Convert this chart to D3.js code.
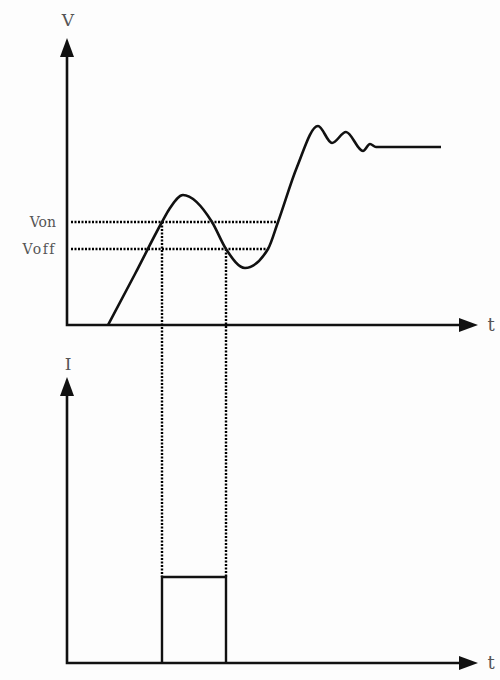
<!DOCTYPE html>
<html>
<head>
<meta charset="utf-8">
<script src="https://cdn.jsdelivr.net/npm/d3@7"></script>
<style>
  body { margin: 0; background: #fdfdfd; }
  text { font-family: "DejaVu Serif", "Liberation Serif", serif; fill: #555; font-variant-ligatures: none; }
</style>
</head>
<body>
<svg id="chart" width="500" height="680"></svg>
<script>
// voltage curve (t, V in arbitrary units)
const voltT = [41, 68, 95, 103, 116, 145, 159, 178, 201, 211, 230, 251, 265, 279, 296, 303, 309, 374]
const voltV = [0, 51, 103, 117, 130, 103, 76, 57, 76, 103, 158, 199, 182, 193, 174, 181, 178, 178]
// thresholds
const thresholdNames = ['Von', 'Voff']
const thresholdV = [103, 76]
const thresholdCrossT = [211, 201]   // where the dotted line stops on the right
const switchT = [95, 159]            // relay on / off times
// current pulse
const pulseT = [95, 95, 159, 159]
const pulseI = [0, 86, 86, 0]
const axisNames = { top: ['V', 't'], bottom: ['I', 't'] }

const svg = d3.select('#chart')

const x = d3.scaleLinear().domain([0, 411]).range([67, 478])
const yV = d3.scaleLinear().domain([0, 287]).range([325, 38])
const yI = d3.scaleLinear().domain([0, 286]).range([663, 377])

function drawAxes (y, names, labelY) {
  const g = svg.append('g')
  const x0 = x(0), y0 = y(0)
  const xTip = x(411), yTip = y(y.domain()[1])
  g.append('path')
    .attr('d', `M${x0},${yTip + 14}V${y0}H${xTip - 14}`)
    .attr('fill', 'none').attr('stroke', '#111').attr('stroke-width', 2.6)
  // arrow heads
  g.append('path')
    .attr('d', `M${x0},${yTip}L${x0 - 7},${yTip + 19}L${x0 + 7},${yTip + 19}Z`)
    .attr('fill', '#111')
  g.append('path')
    .attr('d', `M${xTip},${y0}L${xTip - 19},${y0 - 7}L${xTip - 19},${y0 + 7}Z`)
    .attr('fill', '#111')
  g.append('text').attr('x', x0 + 1).attr('y', labelY)
    .attr('text-anchor', 'middle').attr('font-size', 17).text(names[0])
  g.append('text').attr('x', xTip + 13).attr('y', y0 + 6)
    .attr('text-anchor', 'middle').attr('font-size', 18).text(names[1])
}

drawAxes(yV, axisNames.top, 26)
drawAxes(yI, axisNames.bottom, 370)

const dotted = sel => sel
  .attr('stroke', '#000').attr('stroke-width', 2.4).attr('stroke-dasharray', '2,1.5')

// threshold dotted lines and labels
thresholdNames.forEach((name, i) => {
  svg.append('line')
    .attr('x1', x(4)).attr('x2', x(thresholdCrossT[i]))
    .attr('y1', yV(thresholdV[i])).attr('y2', yV(thresholdV[i]))
    .call(dotted)
  svg.append('text')
    .attr('x', 56).attr('y', yV(thresholdV[i]) + 5)
    .attr('text-anchor', 'end').attr('font-size', 14)
    .attr('letter-spacing', i === 0 ? 0 : 1.5)
    .text(name)
})

// vertical dotted lines from the crossings down to the pulse
switchT.forEach((t, i) => {
  svg.append('line')
    .attr('x1', x(t)).attr('x2', x(t))
    .attr('y1', yV(thresholdV[i])).attr('y2', yI(pulseI[1]))
    .call(dotted)
})

// voltage curve
const vLine = d3.line()
  .x(d => x(d[0])).y(d => yV(d[1]))
  .curve(d3.curveMonotoneX)
svg.append('path')
  .datum(voltT.map((t, i) => [t, voltV[i]]))
  .attr('d', vLine)
  .attr('fill', 'none').attr('stroke', '#111').attr('stroke-width', 2.6)

// current pulse
const iLine = d3.line().x(d => x(d[0])).y(d => yI(d[1]))
svg.append('path')
  .datum(pulseT.map((t, i) => [t, pulseI[i]]))
  .attr('d', iLine)
  .attr('fill', 'none').attr('stroke', '#111').attr('stroke-width', 2.4)
</script>
</body>
</html>
